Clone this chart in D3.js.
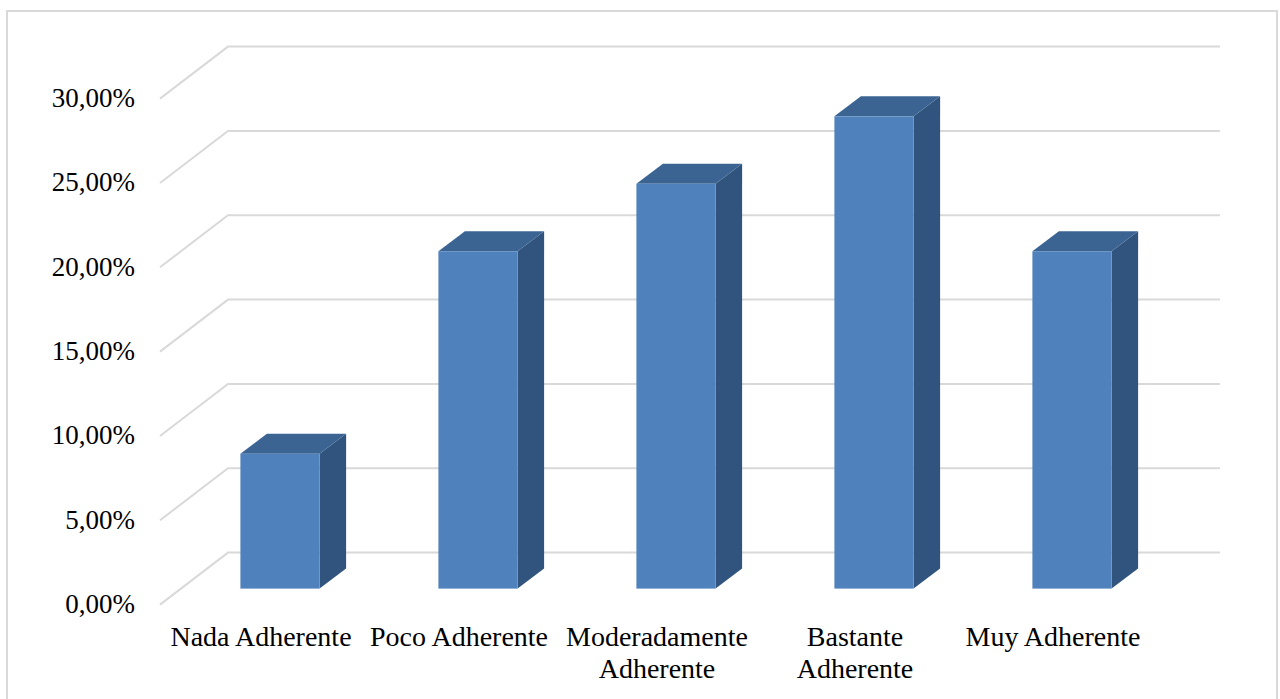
<!DOCTYPE html>
<html lang="es">
<head>
<meta charset="utf-8">
<title>Nivel de adherencia</title>
<script src="https://cdn.jsdelivr.net/npm/d3@7/dist/d3.min.js"></script>
<style>
  html, body { margin: 0; padding: 0; background: #fff; overflow: hidden; }
  svg { display: block; }
  text { font-family: "Liberation Serif", "Times New Roman", serif; fill: #000; }
</style>
</head>
<body>
<svg id="chart" width="1280" height="699"></svg>
<script>
const categories = ["Nada Adherente", "Poco Adherente", "Moderadamente Adherente", "Bastante Adherente", "Muy Adherente"];
const categoryLines = [["Nada Adherente"], ["Poco Adherente"], ["Moderadamente", "Adherente"], ["Bastante", "Adherente"], ["Muy Adherente"]];
const values = [8, 20, 24, 28, 20];
const yTicks = [0, 5, 10, 15, 20, 25, 30];

const svg = d3.select("#chart");

// Chart frame; its lower edge falls below the page
svg.append("rect")
  .attr("x", 7).attr("y", 11).attr("width", 1270).attr("height", 720)
  .attr("fill", "#fff").attr("stroke", "#d9d9d9").attr("stroke-width", 2);

// Oblique projection: the floor runs from the front edge up to the back wall
const floorDx = 68, floorDy = -52;
const barRise = 16;              // height of the bars' base above the floor's front edge
const barInset = 21;             // matching horizontal offset of the bar row
const barDepth = { x: 26.5, y: -20 };

const frontX = 160;
const y = d3.scaleLinear().domain([0, 30]).range([604.6, 98.6]);
const x = d3.scaleBand().domain(categories)
  .range([frontX + barInset, frontX + barInset + 990])
  .paddingInner(0.6).paddingOuter(0.3);

// Gridlines: side wall diagonal, then back wall
const backRight = 1220;
svg.append("g").selectAll("path").data(yTicks).join("path")
  .attr("fill", "none").attr("stroke", "#d9d9d9").attr("stroke-width", 2)
  .attr("d", t => d3.line()([
    [frontX, y(t)],
    [frontX + floorDx, y(t) + floorDy],
    [backRight, y(t) + floorDy]
  ]));

// Value axis labels
const axis = d3.axisLeft(y)
  .tickValues(yTicks)
  .tickSize(0)
  .tickPadding(0)
  .tickFormat(t => t.toFixed(2).replace(".", ",") + "%");
svg.append("g")
  .attr("transform", "translate(135,0)")
  .call(axis)
  .call(g => g.select(".domain").remove())
  .selectAll("text")
  .attr("dy", null)
  .attr("y", 8)
  .attr("font-size", 27)
  .style("font-family", '"Liberation Serif", serif');

// Bars: side, top and front faces
const barBase = y(0) - barRise;
const barTop = d => barBase - (y(0) - y(d));
const bars = svg.append("g").selectAll("g")
  .data(categories.map((c, i) => ({ c, v: values[i] })))
  .join("g");

bars.append("path").attr("fill", "#30547d")
  .attr("d", d => {
    const r = x(d.c) + x.bandwidth();
    return d3.line()([
      [r, barTop(d.v)],
      [r + barDepth.x, barTop(d.v) + barDepth.y],
      [r + barDepth.x, barBase + barDepth.y],
      [r, barBase]
    ]) + "Z";
  });

bars.append("path").attr("fill", "#3b6493")
  .attr("d", d => {
    const l = x(d.c), r = l + x.bandwidth(), t = barTop(d.v);
    return d3.line()([
      [l, t],
      [l + barDepth.x, t + barDepth.y],
      [r + barDepth.x, t + barDepth.y],
      [r, t]
    ]) + "Z";
  });

bars.append("rect").attr("fill", "#4f81bd")
  .attr("x", d => x(d.c))
  .attr("y", d => barTop(d.v))
  .attr("width", x.bandwidth())
  .attr("height", d => barBase - barTop(d.v));

// Category labels sit left of the bars' centres, under the floor's front edge
const labelShift = -19;
const labels = svg.append("g").selectAll("text")
  .data(categories.map((c, i) => ({ c, lines: categoryLines[i] })))
  .join("text")
  .attr("text-anchor", "middle")
  .attr("font-size", 28)
  .attr("y", 646);
labels.selectAll("tspan").data(d => d.lines.map(l => ({ l, c: d.c }))).join("tspan")
  .attr("x", d => x(d.c) + x.bandwidth() / 2 + labelShift)
  .attr("dy", (d, i) => i ? 32 : 0)
  .text(d => d.l);
</script>
</body>
</html>
